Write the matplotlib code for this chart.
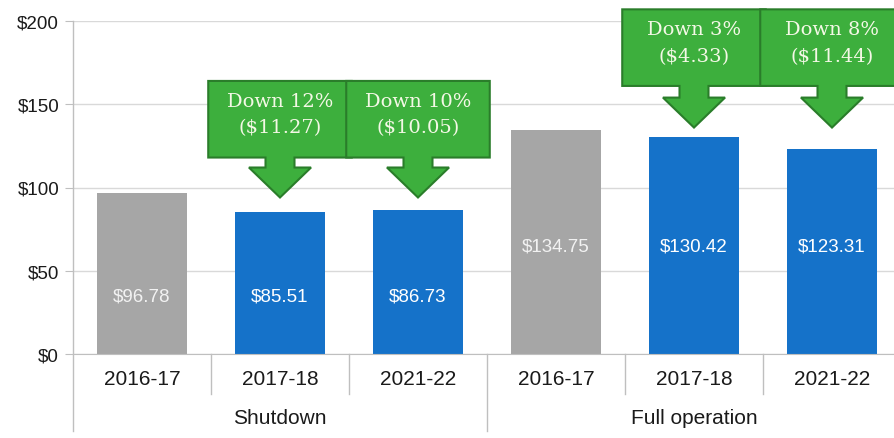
import matplotlib
matplotlib.use('Agg')
import matplotlib.pyplot as plt
from matplotlib.patches import Polygon
import numpy as np

years = ['2016-17', '2017-18', '2021-22', '2016-17', '2017-18', '2021-22']
groups = ['Shutdown', 'Full operation']
values = [96.78, 85.51, 86.73, 134.75, 130.42, 123.31]
is_base = [True, False, False, True, False, False]
callout_pct = ['', '12%', '10%', '', '3%', '8%']
callout_amt = ['', '11.27', '10.05', '', '4.33', '11.44']

plt.rcParams['font.family'] = ['Liberation Sans', 'DejaVu Sans']

gray = '#a6a6a6'
blue = '#1572c9'
green = '#3daf3d'
green_edge = '#2a7d2a'
axis_col = '#bfbfbf'

fig = plt.figure(figsize=(8.94, 4.39), dpi=100)
W, H = 894, 439
x0, x1 = 73, 901
ybot, ytop = 355, 22
ax = fig.add_axes([x0 / W, 1 - ybot / H, (x1 - x0) / W, (ybot - ytop) / H])

x = np.arange(len(values))
colors = [gray if b else blue for b in is_base]
ax.bar(x, values, width=0.65, color=colors, zorder=2)

ax.set_xlim(-0.5, len(values) - 0.5)
ax.set_ylim(0, 200)
ax.set_yticks([0, 50, 100, 150, 200])
ax.set_yticklabels(['$0', '$50', '$100', '$150', '$200'], fontsize=13.5, color='#1a1a1a')
ax.yaxis.grid(True, color='#d9d9d9', lw=1, zorder=0)
ax.tick_params(axis='y', length=6, color=axis_col, pad=4)
ax.set_xticks([])
for s in ['top', 'right', 'left']:
    ax.spines[s].set_visible(False)
ax.spines['bottom'].set_color(axis_col)
ax.spines['bottom'].set_zorder(3)

# left axis line and category separators below the plot
trans = ax.get_xaxis_transform()
ax.plot([-0.5, -0.5], [1.0, -0.232], color=axis_col, lw=1, transform=trans, clip_on=False)
for xs in [0.5, 1.5, 3.5, 4.5]:
    ax.plot([xs, xs], [0, -0.12], color=axis_col, lw=1, transform=trans, clip_on=False)
ax.plot([2.5, 2.5], [0, -0.232], color=axis_col, lw=1, transform=trans, clip_on=False)

for i, y in enumerate(years):
    ax.text(i, -0.075, y, transform=trans, ha='center', va='center', fontsize=15, color='#1a1a1a')
for g, gx in zip(groups, [1, 4]):
    ax.text(gx, -0.19, g, transform=trans, ha='center', va='center', fontsize=15, color='#1a1a1a')

# value labels inside bars
for i, v in enumerate(values):
    ly = 35 if i < 3 else 65
    ax.text(i, ly, f'${v:.2f}', ha='center', va='center', fontsize=13.5,
            color='#f2f2f2' if is_base[i] else 'white', zorder=4)

# down-arrow callouts
for i in range(len(values)):
    if not callout_pct[i]:
        continue
    if i < 3:
        top, bottom, head, tip = 164, 118, 112, 94
    else:
        top, bottom, head, tip = 207, 161, 154, 136
    L, R = i - 0.52, i + 0.52
    sw, hw = 0.105, 0.225
    pts = [(L, top), (R, top), (R, bottom), (i + sw, bottom), (i + sw, head),
           (i + hw, head), (i, tip), (i - hw, head), (i - sw, head), (i - sw, bottom),
           (L, bottom)]
    ax.add_patch(Polygon(pts, closed=True, facecolor=green, edgecolor=green_edge,
                         lw=1.5, zorder=5, clip_on=False))
    ax.text(i, (top + bottom) / 2 + 3, f'Down {callout_pct[i]}\n(${callout_amt[i]})',
            ha='center', va='center', fontsize=14, color='#f4f8e6', family='DejaVu Serif',
            linespacing=1.6, zorder=6)

fig.savefig('out.png', dpi=100)
